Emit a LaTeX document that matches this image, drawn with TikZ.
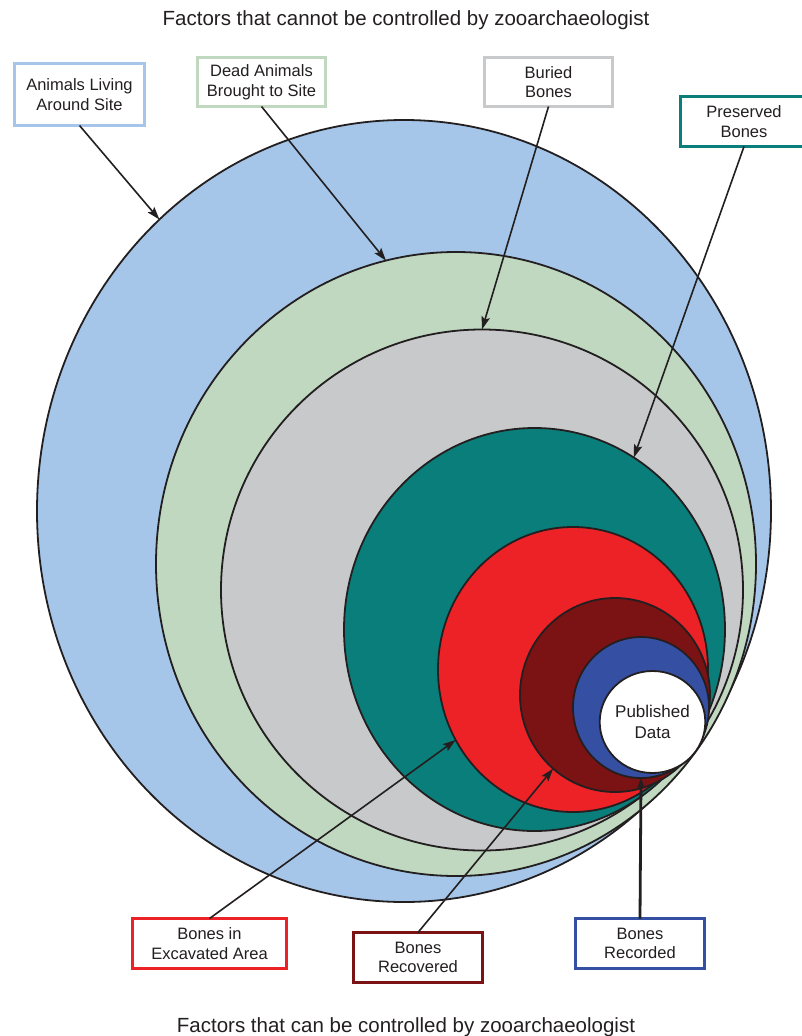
\documentclass[tikz,border=0pt]{standalone}
\usepackage{fontspec}
\setmainfont{Liberation Sans}
\usetikzlibrary{shapes.geometric,arrows.meta}
\definecolor{linec}{HTML}{231F20}
\definecolor{cblue}{HTML}{A5C6E9}
\definecolor{cgreen}{HTML}{BFD8BF}
\definecolor{cgray}{HTML}{C8C9CB}
\definecolor{cteal}{HTML}{0A7E7A}
\definecolor{cred}{HTML}{EC2227}
\definecolor{cdred}{HTML}{7B1214}
\definecolor{cdblue}{HTML}{3550A3}
\begin{document}
\begin{tikzpicture}[x=1pt,y=-1pt,
  ring/.style={ellipse, draw=linec, line width=1.8pt, inner sep=0pt, outer sep=0pt},
  lbl/.style={rectangle, line width=3pt, fill=white, text=linec, align=center, inner sep=0pt, outer sep=0pt, font=\fontsize{16.5}{19.5}\selectfont},
  conn/.style={draw=linec, line width=1.6pt, -{Stealth[length=13pt,width=8.5pt,inset=2.5pt]}},
  ttl/.style={anchor=base, text=linec, font=\fontsize{20.5}{24}\selectfont}]
\useasboundingbox (0,0) rectangle (802,1036);
% nested sets
\node[ring, fill=cblue,  minimum width=734pt, minimum height=782pt] (blue)  at (404,511) {};
\node[ring, fill=cgreen, minimum width=600pt, minimum height=624pt] (green) at (456,564) {};
\node[ring, fill=cgray,  minimum width=522pt, minimum height=521pt] (gray)  at (482,590) {};
\node[ring, fill=cteal,  minimum width=381pt, minimum height=403pt] (teal)  at (534.5,629.5) {};
\node[ring, fill=cred,   minimum width=270pt, minimum height=285pt] (red)   at (573,669.5) {};
\node[ring, fill=cdred,  minimum width=190pt, minimum height=194pt] (dred)  at (615,695) {};
\node[ring, fill=cdblue, minimum width=136pt, minimum height=141pt] (dblue) at (641,707.5) {};
\node[ring, fill=white,  minimum width=101pt, minimum height=102pt, align=center, text=linec,
      font=\fontsize{17}{21}\selectfont] (pub) at (652.5,722) {Published\\Data};
% titles
\node[ttl] (t1) at (406,25) {Factors that cannot be controlled by zooarchaeologist};
\node[ttl] (t2) at (406,1032) {Factors that can be controlled by zooarchaeologist};
% label boxes
\node[lbl, draw=cblue,  minimum width=130pt, minimum height=62pt] (lalive) at (79.5,94.5) {Animals Living\\Around Site};
\node[lbl, draw=cgreen, minimum width=128pt, minimum height=49pt] (ldead)  at (261.5,82) {Dead Animals\\Brought to Site};
\node[lbl, draw=cgray,  minimum width=128pt, minimum height=49pt] (lbur)   at (548.5,82) {Buried\\Bones};
\node[lbl, draw=cteal,  minimum width=127pt, minimum height=50pt] (lpres)  at (744,121.5) {Preserved\\Bones};
\node[lbl, draw=cred,   minimum width=154pt, minimum height=50pt] (lexc)   at (209.5,943.5) {Bones in\\Excavated Area};
\node[lbl, draw=cdred,  minimum width=129pt, minimum height=50pt] (lrec)   at (418,957.5) {Bones\\Recovered};
\node[lbl, draw=cdblue, minimum width=129pt, minimum height=50pt] (lrcd)   at (640,943.5) {Bones\\Recorded};
% connectors
\draw[conn] (lalive.south) -- (blue.130.15);
\draw[conn] (ldead.south) -- (green.103.6);
\draw[conn] (lbur.south) -- (gray.90);
\draw[conn] (lpres.south) -- (teal.60.8);
\draw[conn] (lexc.north) -- (red.211.9);
\draw[conn] (lrec.north) -- (dred.230);
\draw[conn, line width=2.8pt, -{Stealth[length=10pt,width=7pt,inset=2pt]}] (lrcd.north) -- (dblue.270);
\end{tikzpicture}
\end{document}
